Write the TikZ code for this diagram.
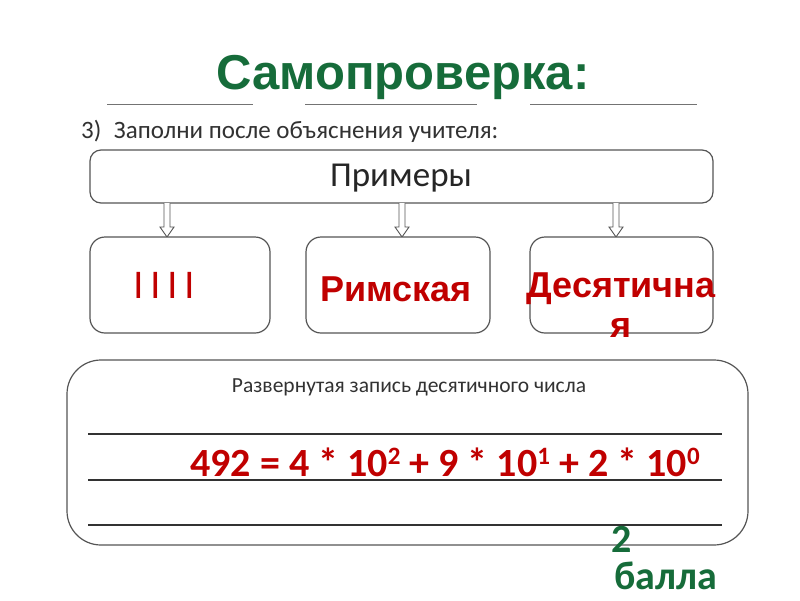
\documentclass[tikz,border=0pt]{standalone}
\usepackage{fontspec}
\setmainfont{Carlito}
\newfontfamily\arialf{Liberation Sans}
\usetikzlibrary{calc}
\definecolor{titlegreen}{RGB}{22,108,58}
\definecolor{ansred}{RGB}{192,0,0}
\definecolor{boxgray}{RGB}{85,85,85}
\definecolor{txtgray}{RGB}{50,50,50}
\tikzset{
  box/.style={draw=boxgray, line width=1.2pt, fill=white},
  hollow/.style={draw=boxgray, line width=0.9pt, fill=white, line join=miter},
  rule/.style={draw=txtgray, line width=1.1pt},
  toprule/.style={draw=black!55, line width=1pt},
  redtext/.style={text=ansred, font=\arialf\bfseries\fontsize{36}{38}\selectfont, inner sep=0pt},
  greentext/.style={text=titlegreen, font=\bfseries\fontsize{40}{42}\selectfont, inner sep=0pt},
}
\newcommand\hollowarrow[3]{%
  \draw[hollow] (#1-3,#2) -- (#1-3,#3-10) -- (#1-7,#3-10) -- (#1,#3) -- (#1+7,#3-10) -- (#1+3,#3-10) -- (#1+3,#2);}
\newcommand\supnum[1]{\raisebox{12pt}{\fontsize{25}{27}\selectfont #1}}
\begin{document}
\begin{tikzpicture}[x=1pt,y=-1pt]
\useasboundingbox (0,0) rectangle (800,600);
\fill[white] (0,0) rectangle (800,600);
% title
\node[text=titlegreen, font=\arialf\bfseries\fontsize{49}{52}\selectfont, inner sep=0pt] (title) at (403,77) {Самопроверка:};
\draw[toprule] (107,104) -- (253,104);
\draw[toprule] (305,104) -- (477,104);
\draw[toprule] (530,104) -- (697,104);
% instruction
\node[anchor=west, text=txtgray, font=\fontsize{25}{27}\selectfont, inner sep=0pt] (instr) at (81,131) {3)\hspace{0.5em}Заполни после объяснения учителя:};
% top box
\draw[box, rounded corners=11pt] (90,150) rectangle (713,203);
\node[text=black!85, font=\fontsize{35}{37}\selectfont, inner sep=0pt] (ex) at (401,178) {Примеры};
% arrows
\hollowarrow{167}{203}{237}
\hollowarrow{402}{203}{237}
\hollowarrow{616}{203}{237}
% three boxes
\draw[box, rounded corners=15pt] (90,237) rectangle (270,333);
\draw[box, rounded corners=15pt] (306,237) rectangle (490,333);
\draw[box, rounded corners=15pt] (530,237) rectangle (713,333);
\node[redtext, font=\arialf\fontsize{38}{40}\selectfont] (b1) at (164,285) {I\,I\,I\,I};
\node[redtext] (b2) at (396,289) {Римская};
\node[redtext] (b3) at (621,289) {Десятична};
\node[redtext] (b3b) at (621,328) {я};
% bottom box
\draw[box, rounded corners=34pt] (67,360) rectangle (748,545);
\node[text=txtgray, font=\fontsize{21.5}{23}\selectfont, inner sep=0pt] (exp) at (409,387) {Развернутая запись десятичного числа};
\draw[rule] (88,434) -- (722,434);
\draw[rule] (88,480) -- (722,480);
\draw[rule] (88,525) -- (722,525);
\node[text=ansred, font=\bfseries\fontsize{40}{42}\selectfont, inner sep=0pt, anchor=base] (formula) at (445,476) {492 = 4 * 10\supnum{2} + 9 * 10\supnum{1} + 2 * 10\supnum{0}};
\node[greentext] (two) at (622,539) {2};
\node[greentext] (balla) at (666,576) {балла};
\end{tikzpicture}
\end{document}
